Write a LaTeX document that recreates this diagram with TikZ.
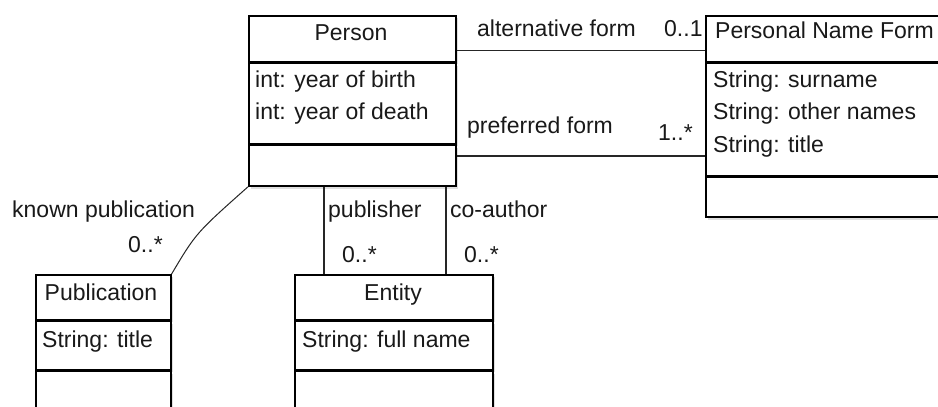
\documentclass[tikz,border=0pt]{standalone}
\usepackage{fontspec}
\setmainfont{Liberation Sans}
\usetikzlibrary{shadows}
\newcommand{\umlfont}{\fontsize{23}{27}\selectfont}

\begin{document}
\begin{tikzpicture}[x=1pt, y=-1pt,
    compart/.style={draw=black, line width=1.6pt, fill=white, inner sep=0pt, anchor=north west,
      drop shadow={shadow xshift=2.5pt, shadow yshift=-2.5pt, fill=black!25}},
    txt/.style={anchor=base west, inner sep=0pt, font=\umlfont, text=black!90},
    assoc/.style={draw=black!85, line width=1.2pt}]
        \useasboundingbox (0,0) rectangle (938,407);
        \clip (0,0) rectangle (938,407);
        % Person
        \node[compart, minimum width=207pt, minimum height=46pt] (personhead) at (248,15) {};
        \node[compart, minimum width=207pt, minimum height=80pt] (personattr) at (personhead.south west) {};
        \node[compart, minimum width=207pt, minimum height=41pt] (personops) at (personattr.south west) {};
        \node[txt, anchor=base] (personname) at (351,40) {Person};
        \node[txt] (birth) at (255,87) {int: year of birth};
        \node[txt] (death) at (255,119) {int: year of death};
        % Personal Name Form
        \node[compart, minimum width=260pt, minimum height=46pt] (pnfhead) at (705,15) {};
        \node[compart, minimum width=260pt, minimum height=112pt] (pnfattr) at (pnfhead.south west) {};
        \node[compart, minimum width=260pt, minimum height=40pt] (pnfops) at (pnfattr.south west) {};
        \node[txt] (pnfname) at (715,38) {Personal Name Form};
        \node[txt] (surname) at (713,87) {String: surname};
        \node[txt] (othernames) at (713,119) {String: other names};
        \node[txt] (pnftitle) at (713,152) {String: title};
        % Publication
        \node[compart, minimum width=135pt, minimum height=45pt] (pubhead) at (35,274) {};
        \node[compart, minimum width=135pt, minimum height=48pt] (pubattr) at (pubhead.south west) {};
        \node[compart, minimum width=135pt, minimum height=70pt] (pubops) at (pubattr.south west) {};
        \node[txt, anchor=base] (pubname) at (101,300) {Publication};
        \node[txt] (pubtitle) at (42,347) {String: title};
        % Entity
        \node[compart, minimum width=198pt, minimum height=45pt] (enthead) at (294,274) {};
        \node[compart, minimum width=198pt, minimum height=48pt] (entattr) at (enthead.south west) {};
        \node[compart, minimum width=198pt, minimum height=70pt] (entops) at (entattr.south west) {};
        \node[txt, anchor=base] (entname) at (393,300) {Entity};
        \node[txt] (fullname) at (302,347) {String: full name};
        % associations
        \coordinate (altA) at ([yshift=-12pt]personhead.east);
        \coordinate (prefA) at ([yshift=9.5pt]personops.east);
        \coordinate (publA) at ([xshift=76pt]personops.south west);
        \coordinate (coA) at ([xshift=198pt]personops.south west);
        \draw[assoc] (altA) -- (altA -| pnfhead.west);
        \draw[assoc] (prefA) -- (prefA -| pnfattr.west);
        \draw[assoc] (publA) -- (publA |- enthead.north);
        \draw[assoc] (coA) -- (coA |- enthead.north);
        \draw[assoc, line width=1pt] (personops.south west) .. controls (196,233) .. (pubhead.north east);
        % role names and multiplicities
        \node[txt] (altlbl) at (477,36) {alternative form};
        \node[txt] (altmult) at (664,36) {0..1};
        \node[txt] (preflbl) at (467,133) {preferred form};
        \node[txt] (prefmult) at (658,140) {1..*};
        \node[txt] (knownlbl) at (12,217) {known publication};
        \node[txt] (knownmult) at (128,252) {0..*};
        \node[txt] (publlbl) at (328,217) {publisher};
        \node[txt] (publmult) at (342,262) {0..*};
        \node[txt] (colbl) at (450,217) {co-author};
        \node[txt] (comult) at (464,262) {0..*};
    \end{tikzpicture}
\end{document}
